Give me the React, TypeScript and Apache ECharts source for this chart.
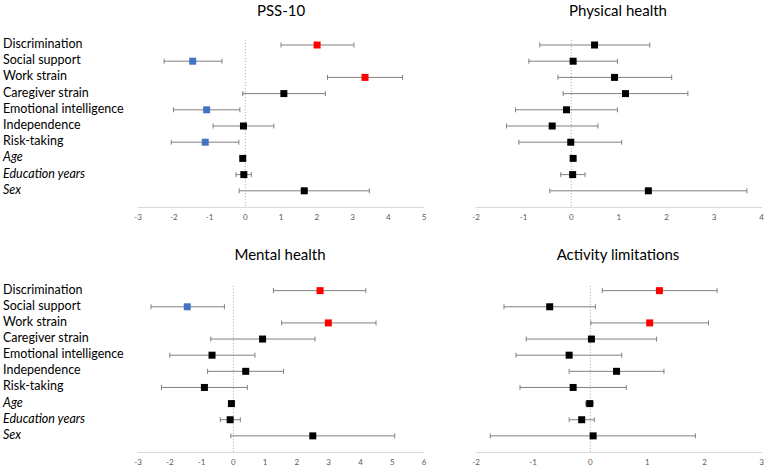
import React, { useEffect, useRef } from 'react';
import * as echarts from 'echarts';

// Predictors listed top to bottom; the last three are covariates (set in italics)
const predictors = [
  'Discrimination',
  'Social support',
  'Work strain',
  'Caregiver strain',
  'Emotional intelligence',
  'Independence',
  'Risk-taking',
  'Age',
  'Education years',
  'Sex',
];
const covariates = ['Age', 'Education years', 'Sex'];

// Significance: 1 = significant positive, -1 = significant negative, 0 = not significant
const pssEst = [2.01, -1.47, 3.35, 1.08, -1.08, -0.05, -1.12, -0.07, -0.04, 1.65];
const pssLow = [1.0, -2.27, 2.3, -0.07, -2.01, -0.9, -2.07, -0.1, -0.26, -0.17];
const pssHigh = [3.04, -0.65, 4.4, 2.24, -0.15, 0.8, -0.18, -0.04, 0.17, 3.47];
const pssSig = [1, -1, 1, 0, -1, 0, -1, 0, 0, 0];

const physEst = [0.49, 0.04, 0.91, 1.14, -0.1, -0.4, -0.01, 0.04, 0.03, 1.62];
const physLow = [-0.66, -0.89, -0.28, -0.17, -1.17, -1.36, -1.1, 0.0, -0.22, -0.45];
const physHigh = [1.65, 0.97, 2.11, 2.45, 0.97, 0.56, 1.06, 0.08, 0.29, 3.69];
const physSig = [0, 0, 0, 0, 0, 0, 0, 0, 0, 0];

const mentEst = [2.73, -1.45, 2.99, 0.92, -0.67, 0.39, -0.91, -0.06, -0.1, 2.5];
const mentLow = [1.26, -2.59, 1.52, -0.71, -2.0, -0.81, -2.26, -0.1, -0.41, -0.08];
const mentHigh = [4.17, -0.28, 4.49, 2.57, 0.68, 1.58, 0.44, -0.02, 0.22, 5.08];
const mentSig = [1, -1, 1, 0, 0, 0, 0, 0, 0, 0];

const actEst = [1.21, -0.71, 1.04, 0.02, -0.37, 0.46, -0.3, -0.01, -0.15, 0.05];
const actLow = [0.21, -1.51, 0.01, -1.12, -1.3, -0.37, -1.23, -0.08, -0.37, -1.75];
const actHigh = [2.22, 0.09, 2.07, 1.16, 0.55, 1.29, 0.63, 0.05, 0.07, 1.84];
const actSig = [1, 0, 1, 0, 0, 0, 0, 0, 0, 0];

const panelTitles = ['PSS-10', 'Physical health', 'Mental health', 'Activity limitations'];
const xRanges: [number, number][] = [
  [-3, 5],
  [-2, 4],
  [-3, 6],
  [-2, 3],
];

const sigColor = (s: number) => (s > 0 ? '#ff0000' : s < 0 ? '#4472c4' : '#000000');
const FONT = 'Lato, "Liberation Sans", Arial, sans-serif';

export default function App() {
  const ref = useRef<HTMLDivElement>(null);

  useEffect(() => {
    if (!ref.current) return;
    const chart = echarts.init(ref.current, undefined, { renderer: 'svg' });

    const panels = [
      { est: pssEst, low: pssLow, high: pssHigh, sig: pssSig },
      { est: physEst, low: physLow, high: physHigh, sig: physSig },
      { est: mentEst, low: mentLow, high: mentHigh, sig: mentSig },
      { est: actEst, low: actLow, high: actHigh, sig: actSig },
    ];

    // panel layout: two columns, two rows
    const lefts = [138, 476, 138, 476];
    const tops = [28.8, 28.8, 274.5, 274.5];
    const heights = [178.2, 178.2, 177.5, 177.5];
    const titlePos = [
      [281, 10],
      [618, 10],
      [280, 254],
      [618, 254],
    ];

    const grid = panels.map((_, i) => ({
      left: lefts[i],
      top: tops[i],
      width: 286,
      height: heights[i],
      containLabel: false,
    }));

    const xAxis = panels.map((_, i) => ({
      type: 'value',
      gridIndex: i,
      min: xRanges[i][0],
      max: xRanges[i][1],
      interval: 1,
      splitLine: { show: false },
      axisTick: { show: false },
      axisLine: { show: true, onZero: false, lineStyle: { color: '#d9d9d9', width: 1 } },
      axisLabel: { fontSize: 8, color: '#595959', margin: 6, fontFamily: FONT },
    }));

    const yAxis = panels.map((_, i) => ({
      type: 'value',
      gridIndex: i,
      min: 0,
      max: 11,
      interval: 1,
      inverse: true,
      splitLine: { show: false },
      axisTick: { show: false },
      axisLine: { show: false },
      axisLabel: {
        show: i % 2 === 0,
        align: 'left',
        margin: 135,
        formatter: (v: number) => {
          const name = predictors[v - 1];
          if (!name) return '';
          return covariates.includes(name) ? `{it|${name}}` : `{n|${name}}`;
        },
        rich: {
          n: { fontSize: 12.5, color: '#000', fontFamily: FONT, padding: [0, 0, 3, 0] },
          it: { fontSize: 12.5, color: '#000', fontFamily: FONT, fontStyle: 'italic', padding: [0, 0, 3, 0] },
        },
      },
    }));

    const series: any[] = [];
    panels.forEach((p, i) => {
      // dotted reference line at zero
      series.push({
        type: 'line',
        xAxisIndex: i,
        yAxisIndex: i,
        data: [
          [0, 0.7],
          [0, 11],
        ],
        symbol: 'none',
        silent: true,
        lineStyle: { color: '#a6a6a6', width: 1, type: [1, 2] },
        z: 1,
      });
      // confidence intervals with end caps
      series.push({
        type: 'custom',
        xAxisIndex: i,
        yAxisIndex: i,
        data: p.est.map((_, k) => [k + 1, p.low[k], p.high[k]]),
        encode: { x: [1, 2], y: 0 },
        renderItem: (_params: any, api: any) => {
          const row = api.value(0);
          const a = api.coord([api.value(1), row]);
          const b = api.coord([api.value(2), row]);
          const style = { stroke: '#808080', lineWidth: 1 };
          const cap = 2.5;
          return {
            type: 'group',
            children: [
              { type: 'line', shape: { x1: a[0], y1: a[1], x2: b[0], y2: b[1] }, style },
              { type: 'line', shape: { x1: a[0], y1: a[1] - cap, x2: a[0], y2: a[1] + cap }, style },
              { type: 'line', shape: { x1: b[0], y1: b[1] - cap, x2: b[0], y2: b[1] + cap }, style },
            ],
          };
        },
        z: 2,
      });
      // point estimates
      series.push({
        type: 'scatter',
        xAxisIndex: i,
        yAxisIndex: i,
        symbol: 'rect',
        symbolSize: 7,
        data: p.est.map((v, k) => ({
          value: [v, k + 1],
          itemStyle: { color: sigColor(p.sig[k]), opacity: 1 },
        })),
        z: 3,
      });
    });

    chart.setOption({
      animation: false,
      backgroundColor: '#ffffff',
      grid,
      xAxis,
      yAxis,
      series,
      graphic: panelTitles.map((t, i) => ({
        type: 'text',
        x: titlePos[i][0],
        y: titlePos[i][1],
        style: {
          text: t,
          align: 'center',
          verticalAlign: 'middle',
          fontSize: 15,
          fontFamily: FONT,
          fill: '#000',
        },
      })),
    });

    return () => chart.dispose();
  }, []);

  return (
    <div
      ref={ref}
      style={{ position: 'absolute', left: 0, top: 0, width: 767, height: 469, background: '#fff' }}
    />
  );
}
